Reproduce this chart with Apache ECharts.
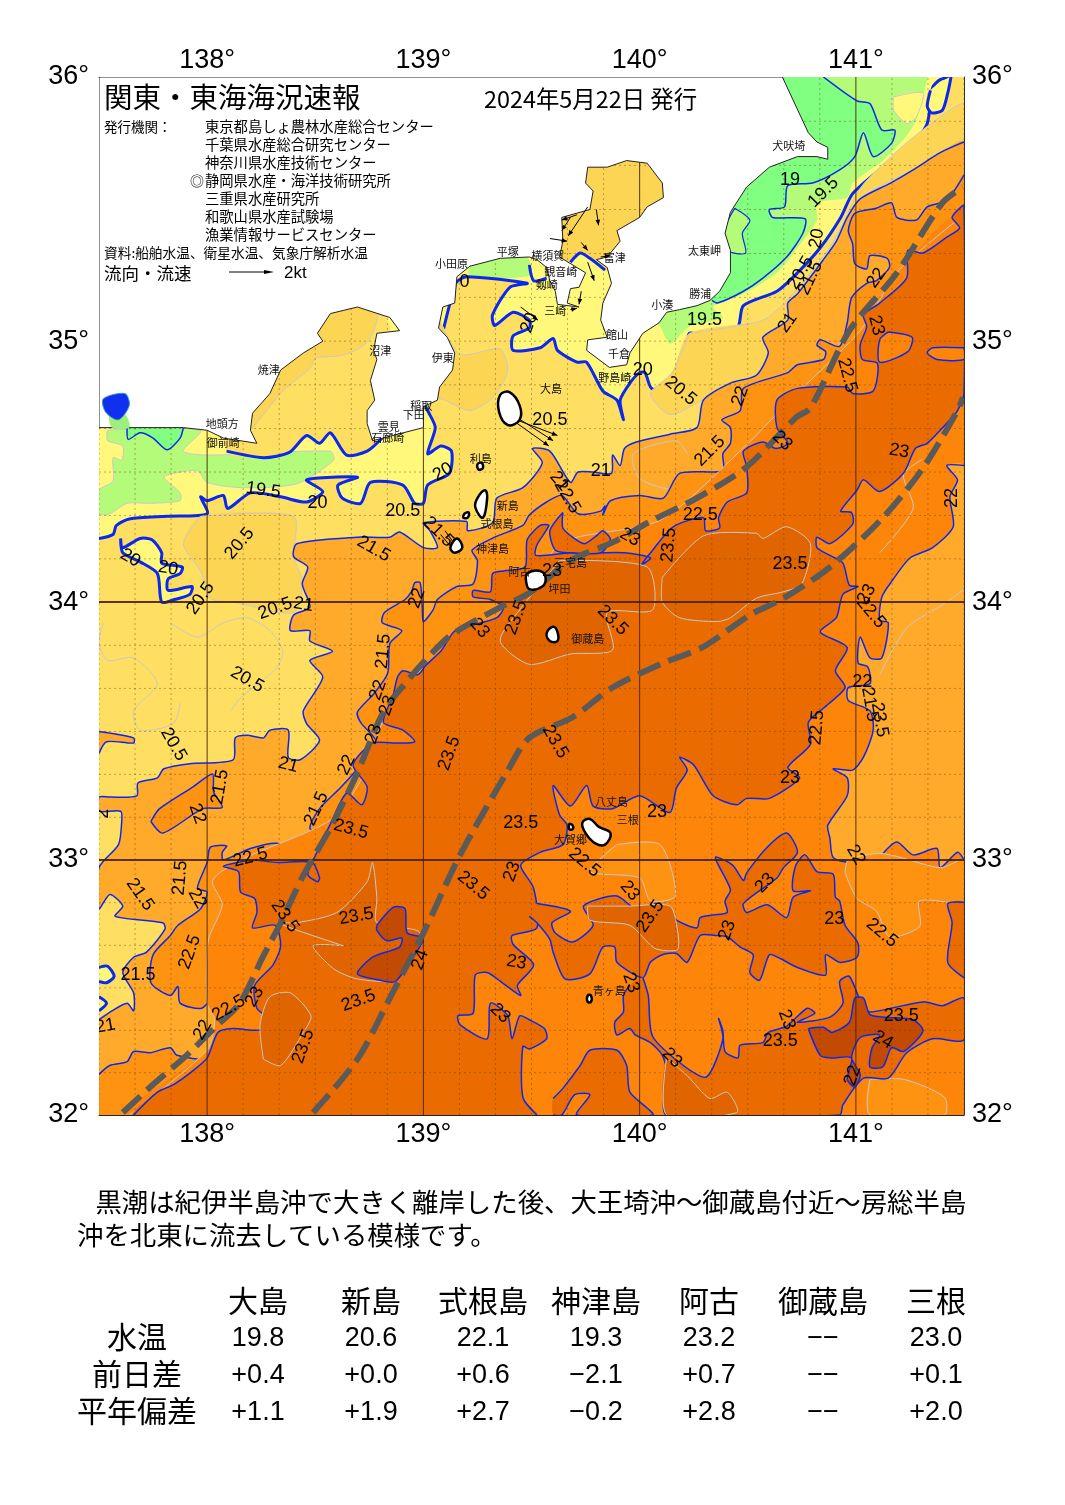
<!DOCTYPE html>
<html lang="ja">
<head>
<meta charset="utf-8">
<title>関東・東海海況速報</title>
<script src="https://cdn.jsdelivr.net/npm/echarts@6/dist/echarts.min.js"></script>
<style>html,body{margin:0;background:#fff}#main{width:1065px;height:1505px}</style>
</head>
<body>
<div id="main"></div>
<script>
// 海岸線 (lon, lat)
var coast = [[137.5,36],[140.66,36],[140.78,35.79],[140.82,35.755],[140.87,35.735],[140.87,35.69],[140.82,35.70],[140.73,35.70],[140.60,35.66],[140.495,35.585],[140.42,35.49],[140.395,35.41],[140.42,35.345],[140.42,35.26],[140.37,35.19],[140.325,35.155],[140.265,35.135],[140.185,35.12],[140.125,35.11],[140.09,35.07],[140.015,35.03],[139.955,34.955],[139.94,34.91],[139.86,34.90],[139.755,34.965],[139.76,35.005],[139.85,35.015],[139.82,35.08],[139.83,35.145],[139.87,35.22],[139.85,35.28],[139.80,35.31],[139.85,35.32],[139.91,35.38],[139.895,35.42],[140,35.47],[140.035,35.51],[140.11,35.545],[140.105,35.60],[140.035,35.675],[139.94,35.685],[139.85,35.66],[139.76,35.66],[139.75,35.60],[139.785,35.57],[139.77,35.50],[139.64,35.47],[139.645,35.38],[139.63,35.32],[139.75,35.26],[139.72,35.205],[139.68,35.20],[139.665,35.145],[139.72,35.13],[139.62,35.14],[139.61,35.19],[139.585,35.23],[139.57,35.28],[139.525,35.31],[139.49,35.32],[139.355,35.315],[139.215,35.285],[139.155,35.245],[139.145,35.145],[139.09,35.13],[139.07,35.05],[139.11,35.015],[139.145,34.955],[139.135,34.89],[139.075,34.825],[139.065,34.775],[139,34.75],[139,34.67],[138.765,34.62],[138.74,34.685],[138.74,34.735],[138.775,34.775],[138.755,34.85],[138.785,34.93],[138.77,34.965],[138.785,35.03],[138.89,35.04],[138.845,35.09],[138.695,35.13],[138.57,35.105],[138.51,35.03],[138.535,35],[138.445,34.955],[138.34,34.89],[138.29,34.80],[138.21,34.725],[138.2,34.66],[138.23,34.61],[138.075,34.63],[138,34.66],[137.89,34.67],[137.63,34.67],[137.5,34.67]];

// 島
var islands = [
  [[139.355,34.795],[139.40,34.805],[139.445,34.755],[139.445,34.70],[139.39,34.68],[139.35,34.73]],
  [[139.25,34.53],[139.27,34.535],[139.275,34.515],[139.255,34.51]],
  [[139.25,34.40],[139.285,34.43],[139.295,34.40],[139.275,34.325],[139.24,34.365]],
  [[139.19,34.34],[139.21,34.345],[139.205,34.325],[139.185,34.325]],
  [[139.125,34.21],[139.155,34.245],[139.18,34.21],[139.145,34.19]],
  [[139.48,34.11],[139.54,34.12],[139.565,34.095],[139.55,34.06],[139.49,34.05],[139.475,34.08]],
  [[139.57,33.88],[139.60,33.905],[139.62,33.885],[139.62,33.85],[139.585,33.85]],
  [[139.735,33.145],[139.77,33.16],[139.81,33.13],[139.865,33.105],[139.84,33.06],[139.795,33.065],[139.75,33.105]],
  [[139.675,33.14],[139.69,33.135],[139.69,33.12],[139.675,33.12]],
  [[139.76,32.47],[139.775,32.47],[139.775,32.445],[139.76,32.445]]
];

// 等温線
var contour19 = [[140.85,36],[141.005,35.91],[141.065,35.90],[141.12,35.80],[141.18,35.80],[141.165,35.75],[141.08,35.70],[141.035,35.79],[140.995,35.70],[140.925,35.65],[140.80,35.60],[140.685,35.59],[140.67,35.51],[140.60,35.50],[140.615,35.47],[140.765,35.465],[140.755,35.41],[140.68,35.32],[140.57,35.24],[140.48,35.19],[140.36,35.145],[140.335,35.155]];
var contour19West = [[137.63,34.67],[137.635,34.625],[137.69,34.65],[137.75,34.63],[137.815,34.585],[137.875,34.63],[137.89,34.67]];
var contour20 = [[137.5,34.245],[137.565,34.26],[137.58,34.295],[137.64,34.32],[137.815,34.33],[138,34.34],[137.97,34.405],[138,34.39],[138.075,34.41],[138.095,34.36],[138.2,34.42],[138.34,34.405],[138.46,34.385],[138.535,34.425],[138.46,34.47],[138.695,34.48],[138.605,34.45],[138.625,34.40],[138.71,34.38],[138.755,34.46],[138.905,34.45],[138.96,34.38],[139,34.38],[139.02,34.45],[139.12,34.495],[139.13,34.58],[139.08,34.60],[139.02,34.57],[139.055,34.67],[139.02,34.735],[139,34.775],[139.05,34.9],[139.15,35.22],[139.20,35.245],[139.48,35.22],[139.40,35.205],[139.32,35.10],[139.33,35.06],[139.415,35.11],[139.49,35.08],[139.49,35.05],[139.415,35.02],[139.415,34.965],[139.54,34.975],[139.60,35.01],[139.62,34.965],[139.71,34.92],[139.755,34.92],[139.83,34.81],[139.895,34.775],[139.925,34.70],[139.91,34.775],[139.955,34.84],[140,34.88],[140.025,34.88],[140.055,34.82],[140.125,34.82],[140.22,34.915],[140.23,35.03],[140.36,35],[140.455,35.055],[140.48,35.135],[140.635,35.19],[140.73,35.26],[140.835,35.355],[140.93,35.47],[140.985,35.56],[141.125,35.66],[141.265,35.75],[141.33,35.825],[141.355,35.96],[141.39,35.99],[141.44,36]];
var contour20Loop = [[141.44,36],[141.425,35.94],[141.40,35.875],[141.35,35.865],[141.33,35.89],[141.345,35.95]];
var contour20Suruga = [[138.09,34.58],[138.26,34.555],[138.38,34.575],[138.46,34.64],[138.52,34.61],[138.57,34.65],[138.645,34.565],[138.74,34.58],[138.815,34.635]];
var contour20Bay = [[139.68,35.30],[139.725,35.335],[139.77,35.315],[139.84,35.27]];
var contour20Miura = [[139.49,35.29],[139.51,35.23],[139.57,35.24]];
var contour21 = [[137.5,32.375],[137.56,32.41],[137.63,32.44],[137.66,32.41],[137.66,32.48],[137.61,32.56],[137.66,32.62],[137.72,32.64],[137.805,32.73],[137.795,32.755],[137.575,32.78],[137.61,32.82],[137.55,32.865],[137.5,32.81],[137.5,32.97],[137.59,33.06],[137.605,33.15],[137.60,33.19],[137.5,33.19],[137.5,33.245],[137.55,33.245],[137.675,33.25],[137.68,33.30],[137.77,33.32],[137.80,33.355],[137.92,33.375],[138.12,33.39],[138.13,33.475],[138.185,33.485],[138.26,33.475],[138.29,33.505],[138.375,33.505],[138.375,33.40],[138.43,33.39],[138.52,33.465],[138.46,33.53],[138.445,33.58],[138.535,33.71],[138.475,33.775],[138.58,33.81],[138.475,33.85],[138.475,33.89],[138.385,33.89],[138.40,33.95],[138.475,33.98],[138.44,34.07],[138.465,34.135],[138.40,34.175],[138.415,34.225],[138.695,34.25],[138.845,34.25],[138.89,34.27],[139,34.21],[139.065,34.21],[139.03,34.275],[139,34.305],[139.20,34.31],[139.205,34.275],[139.32,34.305],[139.34,34.40],[139.46,34.44],[139.55,34.535],[139.505,34.59],[139.585,34.58],[139.68,34.46],[139.715,34.50],[139.785,34.50],[139.87,34.495],[139.875,34.565],[139.91,34.525],[139.93,34.59],[139.985,34.615],[140.14,34.645],[140.265,34.67],[140.295,34.775],[140.42,34.84],[140.54,34.87],[140.595,34.955],[140.57,35.015],[140.685,35.08],[140.685,35.145],[140.73,35.18],[140.85,35.31],[140.91,35.38],[140.96,35.47],[141.02,35.54],[141.16,35.60],[141.265,35.65],[141.39,35.715],[141.5,35.755]];
var contour22 = [[137.5,32.16],[137.55,32.195],[137.63,32.21],[137.66,32.25],[137.735,32.245],[137.83,32.265],[137.86,32.235],[138,32.225],[138.05,32.325],[138.095,32.43],[138.10,32.47],[138.045,32.48],[137.975,32.42],[137.875,32.44],[137.865,32.505],[137.83,32.47],[137.74,32.52],[137.75,32.63],[137.83,32.705],[137.865,32.745],[137.97,32.81],[138,32.875],[137.955,32.89],[138,32.99],[138.015,33.05],[138.09,33.055],[138.07,33.03],[138.075,33],[138.2,33.045],[138.325,33.065],[138.415,33.01],[138.485,33],[138.52,33.08],[138.475,33.125],[138.52,33.20],[138.615,33.28],[138.71,33.37],[138.785,33.455],[138.71,33.535],[138.695,33.575],[138.77,33.645],[138.835,33.725],[138.845,33.84],[138.90,33.89],[138.81,33.92],[138.82,33.96],[138.915,34.01],[138.945,34.04],[138.96,34.075],[138.985,34.075],[138.995,33.98],[139,33.925],[139.045,33.97],[139.065,34.01],[139.155,34.06],[139.23,34.07],[139.25,34.16],[139.225,34.20],[139.33,34.25],[139.46,34.295],[139.49,34.335],[139.57,34.385],[139.64,34.41],[139.715,34.34],[139.82,34.35],[139.84,34.37],[139.83,34.335],[139.865,34.39],[140,34.41],[140.11,34.40],[140.185,34.495],[140.385,34.505],[140.385,34.57],[140.42,34.61],[140.42,34.67],[140.38,34.70],[140.465,34.735],[140.48,34.82],[140.685,34.88],[140.73,34.91],[140.85,34.93],[140.86,34.96],[140.82,34.985],[140.835,35.005],[140.925,34.98],[140.96,35.07],[140.98,35.165],[141.05,35.22],[141.095,35.23],[141.155,35.28],[141.145,35.315],[141.065,35.325],[141.05,35.275],[140.995,35.295],[140.985,35.37],[140.965,35.42],[140.995,35.485],[141.095,35.505],[141.165,35.525],[141.19,35.47],[141.28,35.46],[141.33,35.51],[141.42,35.535],[141.5,35.63]];
var contour225 = [[137.64,32],[138,32.255],[138.035,32.375],[138,32.44],[138.005,32.685],[138.07,32.825],[138.025,32.92],[138.155,33],[138.57,33.155],[138.71,33.31],[138.825,33.56],[138.985,33.735],[139.26,33.89],[139.49,34.01],[139.63,34.225],[140.095,34.315],[140.49,34.60],[140.695,34.775],[141.02,35.04],[141.2,35.27],[141.5,35.48]];
var contour23 = [[137.66,32],[137.77,32.09],[137.845,32.12],[137.935,32.175],[138,32.225],[138.05,32.325],[138.12,32.34],[138.245,32.335],[138.28,32.38],[138.23,32.42],[138.22,32.51],[138.305,32.59],[138.34,32.665],[138.315,32.745],[138.21,32.735],[138.23,32.795],[138.22,32.85],[138.155,32.875],[138.145,32.955],[138.075,32.975],[138.14,32.99],[138.21,33],[138.325,32.99],[138.485,32.99],[138.52,32.93],[138.51,32.915],[138.465,32.945],[138.52,33.05],[138.57,33.14],[138.645,33.26],[138.715,33.215],[138.74,33.285],[138.675,33.37],[138.765,33.455],[138.86,33.455],[138.96,33.46],[138.905,33.505],[138.815,33.535],[138.86,33.64],[138.88,33.71],[138.905,33.735],[138.975,33.72],[139.01,33.755],[139.08,33.81],[139.14,33.885],[139.20,33.905],[139.34,33.94],[139.37,33.98],[139.31,34.01],[139.23,34.02],[139.23,34.045],[139.31,34.04],[139.32,34.11],[139.37,34.12],[139.47,34.135],[139.48,34.24],[139.54,34.295],[139.58,34.295],[139.525,34.22],[139.52,34.18],[139.68,34.19],[139.805,34.19],[139.93,34.19],[140.05,34.17],[140.01,34.145],[140.06,34.20],[140.155,34.29],[140.295,34.325],[140.305,34.275],[140.37,34.285],[140.365,34.325],[140.405,34.385],[140.495,34.42],[140.495,34.52],[140.48,34.58],[140.57,34.615],[140.63,34.59],[140.685,34.61],[140.635,34.67],[140.635,34.775],[140.73,34.82],[140.96,34.825],[140.985,34.80],[141.08,34.81],[141.10,34.915],[141.03,34.93],[141.02,34.985],[141.05,35.055],[141.035,35.10],[141.11,35.145],[141.235,35.24],[141.24,35.345],[141.31,35.335],[141.42,35.395],[141.48,35.43],[141.445,35.47],[141.48,35.505],[141.5,35.515],[141.5,34.80],[141.47,34.735],[141.435,34.70],[141.33,34.61],[141.275,34.59],[141.22,34.495],[141.11,34.425],[141.035,34.47],[141.005,34.43],[140.93,34.35],[140.98,34.345],[140.985,34.30],[140.88,34.225],[140.82,34.25],[140.82,34.21],[140.88,34.18],[140.94,34.15],[140.97,34.065],[141.01,34.06],[140.94,34.03],[140.91,33.94],[140.835,33.885],[140.96,33.825],[140.905,33.735],[140.95,33.67],[140.85,33.59],[140.78,33.535],[140.79,33.45],[140.685,33.36],[140.74,33.32],[140.60,33.24],[140.495,33.24],[140.45,33.215],[140.34,33.25],[140.25,33.37],[140.185,33.40],[140.22,33.35],[140.17,33.28],[140.14,33.185],[140,33.25],[139.875,33.20],[139.785,33.21],[139.755,33.29],[139.68,33.21],[139.60,33.29],[139.63,33.175],[139.665,33.135],[139.645,33.06],[139.54,33.03],[139.45,32.98],[139.51,32.89],[139.525,32.735],[139.41,32.705],[139.415,32.67],[139.51,32.59],[139.435,32.51],[139.45,32.47],[139.365,32.52],[139.295,32.56],[139.24,32.55],[139.23,32.40],[139.16,32.39],[139.17,32.355],[139.295,32.30],[139.31,32.44],[139.39,32.39],[139.41,32.30],[139.445,32.39],[139.49,32.375],[139.56,32.34],[139.57,32.30],[139.49,32.26],[139.46,32.27],[139.46,32.07],[139.525,32]];
var blob23Center = [[139.525,32.83],[139.68,32.80],[139.595,32.755],[139.61,32.715],[139.69,32.68],[139.785,32.745],[139.74,32.82],[139.895,32.86],[140,32.795],[140.08,32.83],[140.17,32.765],[140.265,32.735],[140.28,32.775],[140.34,32.785],[140.405,32.795],[140.395,32.84],[140.42,32.885],[140.35,33.01],[140.43,32.98],[140.48,32.92],[140.495,32.95],[140.59,33.05],[140.68,33.105],[140.73,33.03],[140.665,32.97],[140.635,32.93],[140.48,32.83],[140.495,32.795],[140.59,32.825],[140.68,32.775],[140.71,32.855],[140.79,32.88],[140.71,32.88],[140.72,32.975],[140.765,33.02],[140.82,32.955],[140.895,32.945],[140.905,32.855],[140.925,32.84],[140.95,32.745],[141.01,32.675],[141.005,32.62],[140.925,32.60],[140.86,32.63],[140.86,32.55],[140.73,32.58],[140.65,32.615],[140.60,32.63],[140.555,32.53],[140.51,32.56],[140.525,32.63],[140.465,32.66],[140.405,32.70],[140.35,32.705],[140.28,32.705],[140.22,32.60],[140.17,32.635],[140.105,32.63],[140.05,32.60],[140.015,32.54],[139.895,32.60],[139.885,32.66],[139.83,32.66],[139.77,32.555],[139.655,32.535],[139.60,32.64],[139.585,32.69],[139.525,32.755],[139.49,32.78]];
var blob23South = [[140.015,32.54],[140.04,32.47],[140.06,32.31],[140.21,32.19],[140.31,32.15],[140.385,32.30],[140.365,32.38],[140.385,32.33],[140.395,32.25],[140.455,32.225],[140.465,32.275],[140.57,32.285],[140.595,32.325],[140.68,32.35],[140.775,32.42],[140.81,32.40],[140.73,32.365],[140.88,32.385],[140.94,32.44],[140.925,32.525],[140.97,32.545],[141.03,32.43],[141.065,32.405],[141.31,32.445],[141.40,32.43],[141.5,32.46],[141.5,32.295],[141.355,32.30],[141.235,32.245],[141.15,32.145],[141.035,32.145],[140.94,32.04],[140.925,32],[140.125,32],[140.115,32.10],[140.13,32.155],[140.105,32.235],[140.05,32.285],[139.98,32.315],[139.955,32.34],[139.895,32.315],[139.885,32.365],[139.925,32.405],[139.925,32.47],[139.955,32.51]];
var blob23Bottom = [[139.60,32.065],[139.645,32.105],[139.725,32.195],[139.77,32.255],[139.895,32.255],[139.94,32.195],[139.955,32.09],[140.06,32],[139.71,32],[139.77,32.08],[139.70,32.08],[139.64,32],[139.60,32]];
var blob23East = [[141.5,32.835],[141.425,32.83],[141.445,32.755],[141.425,32.60],[141.5,32.54]];
var blob23Miyake = [[139.645,34.345],[139.645,34.285],[139.69,34.25],[139.745,34.225],[139.80,34.255],[139.83,34.275],[139.865,34.24],[139.82,34.19],[139.68,34.19],[139.61,34.20],[139.585,34.275]];
var blob24West = [[138.785,32.745],[138.86,32.815],[138.915,32.81],[138.925,32.715],[139,32.695],[138.96,32.63],[138.87,32.525],[138.80,32.53],[138.695,32.555],[138.765,32.62],[138.89,32.66],[138.90,32.695],[138.83,32.685],[138.785,32.725]];
var blob24East = [[140.78,32.34],[140.85,32.345],[140.89,32.325],[140.97,32.365],[140.995,32.46],[141.035,32.46],[141.065,32.395],[141.135,32.385],[141.265,32.375],[141.31,32.33],[141.22,32.25],[141.165,32.265],[141.125,32.19],[141.065,32.19],[141.075,32.265],[141.11,32.315],[141.02,32.305],[140.98,32.225],[141.02,32.16],[140.995,32.11],[140.96,32.14],[140.98,32.225],[140.88,32.225],[140.835,32.235]];

// 水温の面
var band195North = [[140.66,36],[141.33,36],[141.33,35.99],[141.28,35.84],[141.235,35.78],[141.125,35.685],[140.985,35.60],[140.96,35.545],[140.82,35.525],[140.82,35.46],[140.73,35.355],[140.635,35.26],[140.48,35.18],[140.34,35.13],[140.385,35.09],[140.23,35.055],[140.14,34.99],[140.10,35.05],[140.05,35.12],[140.28,35.345]];
var band195Sagami = [[139.215,35.285],[139.355,35.315],[139.48,35.32],[139.49,35.25],[139.215,35.245]];
var band195West = [[137.54,34.66],[137.97,34.66],[137.89,34.58],[138.015,34.565],[138.57,34.58],[138.585,34.545],[138.415,34.455],[138.165,34.44],[138,34.46],[137.955,34.505],[137.845,34.495],[137.80,34.48],[137.875,34.42],[137.875,34.39],[137.735,34.38],[137.63,34.38],[137.55,34.34],[137.5,34.34],[137.5,34.43],[137.565,34.465],[137.565,34.555],[137.605,34.545],[137.61,34.60],[137.54,34.62]];
var yellowTop = [[141.175,35.925],[141.31,35.94],[141.28,35.85],[141.235,35.825],[141.175,35.875]];
var lightInGreen = [[140.44,35.505],[140.51,35.46],[140.475,35.41],[140.49,35.335],[140.405,35.345],[140.395,35.43]];
var pocketWest20 = [[137.6,34.245],[137.61,34.21],[137.69,34.245],[137.745,34.24],[137.79,34.19],[137.79,34.15],[137.885,34.135],[137.875,34.11],[137.82,34.09],[137.82,34.045],[137.93,34.06],[137.92,34.03],[137.85,34.01],[137.79,34],[137.77,34.11],[137.69,34.155],[137.61,34.19]];
var pocketEdgeA = [[137.5,32.58],[137.54,32.585],[137.57,32.545],[137.535,32.52],[137.5,32.525]];
var pocketEdgeB = [[137.5,32.465],[137.535,32.44],[137.5,32.41]];
var pocketEast21 = [[141.5,33.81],[141.435,33.81],[141.40,33.735],[141.30,33.71],[141.17,33.685],[141.12,33.62],[141.09,33.53],[141.09,33.375],[141.265,33.32],[141.34,33.32],[141.285,33.26],[141.34,33.23],[141.435,33.29],[141.5,33.32]];
var pocketEast22 = [[141.5,34.525],[141.42,34.525],[141.47,34.47],[141.435,34.405],[141.45,34.29],[141.355,34.21],[141.25,34.17],[141.17,34.085],[141.12,34.02],[141.11,33.93],[141.15,33.92],[141.12,33.785],[141.065,33.785],[141.02,33.865],[141.01,33.765],[141.055,33.75],[141.065,33.685],[140.965,33.67],[140.965,33.62],[141.065,33.58],[141.08,33.505],[141.035,33.40],[140.985,33.35],[140.895,33.355],[140.96,33.32],[140.96,33.25],[140.87,33.135],[140.88,33.085],[140.895,33.01],[140.98,32.99],[141.035,33],[141.095,33.01],[141.095,32.97],[141.125,33.025],[141.19,33.07],[141.265,33.02],[141.375,33.045],[141.39,32.97],[141.47,33.03],[141.5,33]];
var blobEdge21 = [[137.5,33.5],[137.66,33.475],[137.66,33.455],[137.535,33.46],[137.5,33.415]];
var blob22West = [[137.74,33.15],[137.795,33.105],[137.98,33.20],[138.07,33.205],[138.03,33.265],[138.025,33.335],[137.935,33.285],[137.78,33.20]];
var pocket23a = [[141.15,35.035],[141.26,35.015],[141.24,34.96],[141.11,34.92],[141.11,35.005]];
var pocket23b = [[141.5,34.975],[141.355,34.975],[141.33,34.955],[141.375,34.93],[141.5,34.93]];
var tint205Suruga = [[138.2,34.66],[138.35,34.81],[138.48,34.90],[138.50,34.935],[138.62,34.945],[138.71,34.975],[138.76,35.02],[138.79,35.12],[138.70,35.20],[138.43,35.03],[138.2,34.80]];
var tint205Sagami = [[139.07,35.08],[139.17,34.95],[139.355,34.97],[139.39,34.885],[139.32,34.785],[139.215,34.735],[139.10,34.775],[139.03,34.80]];
var tint205East = [[140.23,35.03],[140.57,35.08],[140.685,35.16],[140.81,35.28],[140.915,35.40],[141.02,35.58],[141.19,35.72],[141.34,35.82],[141.5,35.90],[141.5,35.755],[141.265,35.65],[141.02,35.54],[140.85,35.31],[140.685,35.08],[140.54,34.87],[140.30,34.78],[140.14,34.72],[140.05,34.80],[140.15,34.88]];
var tint205West = [[137.97,34.33],[138.40,34.33],[138.40,34.175],[138.44,34.08],[138.40,33.96],[138.12,34],[138.015,34.015],[137.97,34.12],[137.89,34.225]];
var tint205Bay = [[139.6,35.72],[140.15,35.72],[140.15,35.4],[139.88,35.27],[139.84,35.27],[139.77,35.315],[139.725,35.335],[139.68,35.30],[139.6,35.35]];
var tint225Hachijo = [[139.895,33.06],[140.095,33.06],[140.165,32.86],[140.05,32.84],[140,32.93],[139.77,32.955]];
var tint225East = [[140.95,32.95],[141.005,32.85],[141.095,32.80],[141.155,32.70],[141.295,32.74],[141.295,32.84],[141.5,32.84],[141.5,33],[141.39,32.97],[141.125,33.025],[140.965,33]];
var tint225South = [[141.065,32.14],[141.225,32.14],[141.41,32.07],[141.41,32],[141.065,32]];
var warm235a = [[140.105,34.095],[140.295,34.255],[140.54,34.265],[140.57,34.245],[140.68,34.29],[140.79,34.225],[140.75,34.07],[140.665,34.04],[140.54,34.015],[140.42,33.94],[140.36,33.925],[140.185,33.94],[140.105,34]];
var warm235b = [[139.63,34.16],[140.035,34.135],[140.06,33.97],[139.85,33.96],[139.875,33.815],[139.68,33.80],[139.49,33.76],[139.355,33.85],[139.445,33.97]];
var warm235c = [[138.63,32.665],[138.49,32.665],[138.585,32.575],[138.695,32.535],[138.86,32.535],[138.985,32.715],[138.785,32.755],[138.785,32.85],[138.765,32.99],[138.74,32.915],[138.60,32.795],[138.415,32.755],[138.325,32.755]];
var warm235d = [[138.26,32.22],[138.34,32.195],[138.445,32.325],[138.48,32.39],[138.385,32.48],[138.29,32.465],[138.245,32.355]];
var warm235e = [[140.125,32.225],[140.22,32.155],[140.325,32.065],[140.405,32.09],[140.45,32.01],[140.125,32]];
var warm235f = [[139.76,32.82],[139.955,32.82],[140.14,32.82],[140.175,32.725],[140.175,32.65],[140.07,32.655],[139.955,32.745],[139.77,32.765]];

// 灰色の等温線
var grey205a = [[137.83,33.92],[137.955,33.865],[138.075,33.92],[138.185,33.94],[138.29,33.89],[138.35,33.81],[138.32,33.745],[138.155,33.63],[138.11,33.58]];
var grey205b = [[137.52,33.92],[137.5,33.84],[137.54,33.775],[137.66,33.785],[137.77,33.685],[137.66,33.58],[137.69,33.505],[137.845,33.53],[137.875,33.61]];
var grey215a = [[140.45,34.53],[140.42,34.455],[140.17,34.43],[140,34.475],[139.97,34.57],[140.17,34.62],[140.22,34.57]];
var grey225a = [[141.11,34.19],[141.265,34.36],[141.22,34.49],[141.31,34.55]];
var grey225b = [[141.11,33.72],[141.235,33.90],[141.42,34],[141.5,34.05]];

// 黒潮
var kuroshioNorth = [[137.61,32.01],[137.75,32.12],[137.905,32.235],[138.03,32.34],[138.15,32.44],[138.26,32.625],[138.34,32.755],[138.445,32.94],[138.57,33.125],[138.695,33.34],[138.815,33.575],[138.94,33.71],[139.065,33.825],[139.14,33.88],[139.355,33.98],[139.49,34.035],[139.68,34.16],[139.875,34.23],[140.06,34.315],[140.265,34.40],[140.495,34.52],[140.725,34.71],[140.79,34.745],[140.97,35.04],[141.19,35.26],[141.40,35.525],[141.495,35.585]];
var kuroshioSouth = [[138.49,32.01],[138.695,32.22],[138.845,32.46],[139,32.715],[139.17,33.02],[139.385,33.34],[139.49,33.475],[139.69,33.555],[139.875,33.67],[140.11,33.765],[140.29,33.825],[140.51,33.95],[140.665,34.015],[140.88,34.135],[141.125,34.325],[141.31,34.515],[141.47,34.735],[141.495,34.785]];

// 伊勢湾の小さな水域
var iseWater = [[137.52,34.78],[137.62,34.80],[137.64,34.755],[137.59,34.70],[137.53,34.73]];
var iseShore = [[137.55,34.72],[137.62,34.72],[137.64,34.67],[137.56,34.67]];

// 流向
var flowArrows = [[139.43,34.70,139.62,34.64],[139.43,34.71,139.60,34.62],[139.41,34.70,139.58,34.60],[139.80,35.50,139.81,35.44],[139.68,35.47,139.64,35.42],[139.76,35.51,139.67,35.40],[139.71,35.48,139.64,35.46],[139.585,35.39,139.665,35.38],[139.73,35.375,139.76,35.345],[139.76,35.30,139.79,35.23],[139.73,35.19,139.72,35.14],[139.68,35.12,139.71,35.125],[139.82,35.32,139.865,35.325],[139.45,35.13,139.53,35.08],[139.10,34.275,139.16,34.205],[139.08,34.26,139.15,34.19]];

// 等温線ラベル lon, lat, text, 角度
var contourLabels = [[140.695,35.61,'19',0],[140.85,35.565,'19.5',45],[140.30,35.08,'19.5',0],[138.26,34.43,'19.5',-8],[140.82,35.39,'20',80],[140.745,35.26,'20.5',60],[140.79,35.24,'21.5',65],[141.095,35.24,'22',55],[141.095,35.06,'23',-75],[140.96,34.87,'22.5',-75],[140.685,35.07,'21',55],[140.465,34.79,'22',70],[140.19,34.81,'20.5',-40],[140.015,34.89,'20',0],[139.09,34.50,'20',30],[139.585,34.70,'20.5',0],[139.82,34.505,'21',0],[140.325,34.58,'21.5',45],[140.66,34.62,'23',-45],[140.28,34.335,'22.5',0],[140.135,34.22,'23.5',85],[139.955,34.25,'23',-30],[139.595,34.12,'23',0],[140.695,34.145,'23.5',0],[141.2,34.58,'23',-10],[141.445,34.40,'22',90],[141.05,34.03,'23',60],[141.07,33.96,'22.5',-50],[139.875,33.93,'23.5',-45],[139.43,33.94,'23.5',70],[139.26,33.90,'23',-50],[138.15,34.225,'20.5',50],[137.97,34.015,'20.5',55],[138.315,33.975,'20.5',20],[138.445,33.99,'21',-10],[138.97,34.015,'22',70],[138.815,33.81,'21.5',85],[138.79,33.66,'22',70],[138.835,33.60,'23',70],[138.185,33.70,'20.5',-30],[137.845,33.45,'20.5',-60],[138.375,33.37,'21',-15],[138.06,33.285,'21.5',80],[137.955,33.18,'22',-70],[137.52,33.18,'2',90],[138.77,33.49,'23',70],[138.645,33.37,'22',65],[139.12,33.415,'23.5',70],[139.61,33.46,'23.5',-60],[138.505,33.20,'21.5',65],[138.665,33.12,'23.5',-15],[139.45,33.145,'23.5',0],[140.08,33.185,'23',0],[140.695,33.32,'23',0],[139.745,32.99,'22.5',-40],[141,33.02,'22',-60],[140.58,32.91,'23',45],[138.2,33.01,'22.5',15],[139.41,32.955,'23',70],[139.23,32.90,'23.5',-40],[137.875,32.93,'21.5',85],[137.955,32.85,'22',-60],[137.69,32.865,'21.5',-55],[137.92,32.64,'22.5',70],[137.68,32.55,'21.5',0],[138.36,32.78,'23.5',-55],[138.69,32.78,'23.5',10],[138.985,32.61,'24',70],[139.955,32.88,'23',-50],[140.05,32.78,'23.5',55],[140.405,32.725,'23',70],[140.90,32.77,'23',0],[141.12,32.715,'22.5',-40],[139.43,32.60,'23',-10],[138.70,32.45,'23.5',20],[139.355,32.40,'23',-45],[139.96,32.52,'23',-70],[140.15,32.225,'23',-45],[140.68,32.375,'23',-70],[140.65,32.29,'23.5',0],[141.21,32.39,'23.5',0],[141.125,32.295,'24',-30],[138.445,32.27,'23.5',70],[138.22,32.465,'23',60],[138.10,32.42,'22.5',30],[137.98,32.335,'22',60],[137.53,32.35,'21',10],[140.985,32.155,'22',70],[139.63,34.465,'21',-50],[139.665,34.405,'22.5',-60],[138.905,34.35,'20.5',0],[139.07,34.27,'21.5',-45],[138.77,34.205,'21.5',-30],[138.51,34.38,'20',0],[137.645,34.17,'20',-30],[137.82,34.13,'20',-10],[141.03,33.69,'22',0],[141.065,33.605,'21.5',-80],[141.11,33.545,'23.5',-80],[140.82,33.515,'22.5',85],[139.49,35.07,'20',70],[139.19,35.225,'0',0]];

// 地名 lon, lat, text
var placeNames = [[139.59,34.82,'大島'],[139.265,34.55,'利島'],[139.39,34.37,'新島'],[139.34,34.30,'式根島'],[139.32,34.205,'神津島'],[139.68,34.15,'三宅島'],[139.445,34.115,'阿古'],[139.63,34.05,'坪田'],[139.76,33.86,'御蔵島'],[139.87,33.225,'八丈島'],[139.945,33.155,'三根'],[139.68,33.08,'大賀郷'],[139.86,32.49,'青ヶ島'],[139.13,35.295,'小田原'],[139.39,35.34,'平塚'],[139.575,35.325,'横須賀'],[139.635,35.265,'観音崎'],[139.61,35.115,'三崎'],[139.57,35.215,'剱崎'],[139.885,35.315,'富津'],[139.895,35.025,'館山'],[139.905,34.95,'千倉'],[139.885,34.86,'野島崎'],[140.28,35.18,'勝浦'],[140.105,35.14,'小湊'],[140.30,35.345,'太東岬'],[140.69,35.74,'犬吠埼'],[138.80,34.965,'沼津'],[139.09,34.935,'伊東'],[138.285,34.89,'焼津'],[138.07,34.685,'地頭方'],[138.075,34.61,'御前崎'],[138.99,34.755,'稲取'],[138.955,34.72,'下田'],[138.84,34.675,'雲見'],[138.835,34.63,'石廊崎']];

var issuerList = ['東京都島しょ農林水産総合センター','千葉県水産総合研究センター','神奈川県水産技術センター','静岡県水産・海洋技術研究所','三重県水産研究所','和歌山県水産試験場','漁業情報サービスセンター'];
var tableStations = ['大島','新島','式根島','神津島','阿古','御蔵島','三根'];
var rowNames = ['水温','前日差','平年偏差'];
var waterTemp = ['19.8','20.6','22.1','19.3','23.2','−−','23.0'];
var dayDiff = ['+0.4','+0.0','+0.6','−2.1','+0.7','−−','+0.1'];
var normalDiff = ['+1.1','+1.9','+2.7','−0.2','+2.8','−−','+2.0'];
var lonTicks = [138,139,140,141];
var latTicks = [32,33,34,35,36];

function merc(lat){ return Math.log(Math.tan(Math.PI/4 + lat*Math.PI/360)); }
function invMerc(v){ return (2*Math.atan(Math.exp(v)) - Math.PI/2)*180/Math.PI; }

var C = {green:'#80ff80', lgreen:'#b3fb78', yellow:'#fff87a', y20:'#ffdf62', y205:'#fdd555', o21:'#ffaa2a', o22:'#fe9312', o225:'#fd860a', o23:'#ea6c00', o235:'#e06400', o24:'#c34a03'};
var BLUE = '#0a28f0', GREY = '#c9c9c9';
var N = [[141.5,36],[141.5,32],[137.5,32]];  // 東端・南端で閉じる
var SE = [[141.5,32],[137.5,32]];

// ring, 閉じる点, 塗り, 線色, 線幅, 線も閉じるか
var layers = [
  [band195North,[],C.lgreen,null,0],
  [yellowTop,[],C.yellow,GREY,1,1],
  [contour19,[[140.3,35.3],[140.66,36]],C.green,BLUE,1.5],
  [lightInGreen,[],C.lgreen,BLUE,1.2,1],
  [band195Sagami,[],C.lgreen,null,0],
  [band195West,[],C.lgreen,GREY,1,1],
  [contour19West,[[137.89,34.8],[137.63,34.8]],C.green,BLUE,1.5],
  [contour20Suruga,[[138.815,35.1],[138.09,35.1]],C.y20,BLUE,3],
  [contour20,N,C.y20,BLUE,3],
  [contour20Loop,[],C.yellow,BLUE,3],
  [pocketWest20,[],C.yellow,BLUE,3,1],
  [pocketEdgeA,[],C.yellow,BLUE,3],
  [pocketEdgeB,[],C.yellow,BLUE,3],
  [tint205Suruga,[],C.y205,GREY,1,1],
  [tint205Sagami,[],C.y205,GREY,1,1],
  [tint205East,[],C.y205,GREY,1,1],
  [tint205West,[],C.y205,GREY,1,1],
  [tint205Bay,[],C.y205,null,0],
  [contour20Bay,[],null,BLUE,3],
  [contour20Miura,[],null,BLUE,3],
  [grey205a,[],null,GREY,1],
  [grey205b,[],null,GREY,1],
  [contour21,SE,C.o21,BLUE,1.5],
  [pocketEast21,[],C.y20,BLUE,1.5],
  [blobEdge21,[],C.o21,BLUE,1.5],
  [grey215a,[],null,GREY,1],
  [contour22,SE,C.o22,BLUE,1.5],
  [blob22West,[],C.o22,BLUE,1.5,1],
  [contour225,[[141.5,32]],C.o225,GREY,1],
  [pocketEast22,[],C.o21,BLUE,1.5],
  [grey225a,[],null,GREY,1],
  [grey225b,[],null,GREY,1],
  [tint225Hachijo,[],C.o22,GREY,1,1],
  [tint225East,[],C.o22,GREY,1,1],
  [tint225South,[],C.o22,GREY,1,1],
  [contour23,[],C.o23,BLUE,1.5],
  [pocket23a,[],C.o225,BLUE,1.5,1],
  [pocket23b,[],C.o225,BLUE,1.5,1],
  [blob23Miyake,[],C.o23,BLUE,1.5,1],
  [blob23Center,[],C.o23,BLUE,1.5],
  [blob23South,[],C.o23,BLUE,1.5],
  [blob23Bottom,[],C.o23,BLUE,1.5],
  [blob23East,[],C.o23,BLUE,1.5],
  [warm235a,[],C.o235,GREY,1,1],
  [warm235b,[],C.o235,GREY,1,1],
  [warm235c,[],C.o235,GREY,1,1],
  [warm235d,[],C.o235,GREY,1,1],
  [warm235e,[],C.o235,GREY,1,1],
  [warm235f,[],C.o235,GREY,1,1],
  [blob24West,[],C.o24,BLUE,1.5,1],
  [blob24East,[],C.o24,BLUE,1.5,1]
];

function project(api, pts){
  return pts.map(function(p){ return api.coord([p[0], merc(p[1])]); });
}

var myChart = echarts.init(document.getElementById('main'));

function renderLayer(params, api){
  var l = layers[params.dataIndex];
  var children = [];
  if (l[2]) {
    children.push({type:'polygon', shape:{points:project(api, l[0].concat(l[1])), smooth:0.25}, style:{fill:l[2]}});
  }
  if (l[3]) {
    var line = l[5] ? l[0].concat([l[0][0]]) : l[0];
    children.push({type:'polyline', shape:{points:project(api, line), smooth:0.25}, style:{fill:null, stroke:l[3], lineWidth:l[4], lineJoin:'round'}});
  }
  return {type:'group', children:children};
}

// 10分ごとの経緯線
var graticule = [];
for (var i = 0; i <= 24; i++) {
  var lo = 137.5 + i/6;
  var major = Math.abs(lo - Math.round(lo)) < 0.001;
  graticule.push({pts:[[lo,32],[lo,36]], major:major, w:1});
}
for (var j = 1; j < 24; j++) {
  var la = 32 + j/6;
  var maj = Math.abs(la-33) < 0.001 || Math.abs(la-34) < 0.001;
  graticule.push({pts:[[137.5,la],[141.5,la]], major:maj, w:maj ? 2 : 1});
}

function renderGrid(params, api){
  var g = graticule[params.dataIndex];
  return {type:'polyline', shape:{points:project(api, g.pts)}, style:{fill:null, stroke:g.major ? 'rgba(70,35,0,0.9)' : 'rgba(90,50,0,0.38)', lineWidth:g.w, lineDash:g.major ? null : [2,3]}};
}

function renderKuroshio(params, api){
  var pts = params.dataIndex === 0 ? kuroshioNorth : kuroshioSouth;
  return {type:'polyline', shape:{points:project(api, pts), smooth:0.3}, style:{fill:null, stroke:'#5a5a5a', lineWidth:6, lineDash:[24,9]}};
}

function renderFlow(params, api){
  var f = flowArrows[params.dataIndex];
  var a = api.coord([f[0], merc(f[1])]), b = api.coord([f[2], merc(f[3])]);
  var ang = Math.atan2(b[1]-a[1], b[0]-a[0]);
  var h1 = [b[0]-6*Math.cos(ang-0.4), b[1]-6*Math.sin(ang-0.4)], h2 = [b[0]-6*Math.cos(ang+0.4), b[1]-6*Math.sin(ang+0.4)];
  return {type:'group', children:[
    {type:'line', shape:{x1:a[0],y1:a[1],x2:b[0],y2:b[1]}, style:{stroke:'#000', lineWidth:1}},
    {type:'polygon', shape:{points:[b,h1,h2]}, style:{fill:'#000'}}
  ]};
}

function renderLand(params, api){
  return {type:'group', children:[
    {type:'polygon', shape:{points:project(api, coast)}, style:{fill:'#fff', stroke:'#222', lineWidth:1}},
    {type:'polygon', shape:{points:project(api, iseShore), smooth:0.3}, style:{fill:'#9cf07a'}},
    {type:'polygon', shape:{points:project(api, iseWater), smooth:0.3}, style:{fill:'#1030f0', stroke:'#39c', lineWidth:1}}
  ]};
}

function renderIsland(params, api){
  return {type:'polygon', shape:{points:project(api, islands[params.dataIndex]), smooth:0.4}, style:{fill:'#fff', stroke:'#000', lineWidth:2.5, lineJoin:'round'}};
}

function renderLabel(params, api){
  var l = contourLabels[params.dataIndex];
  var p = api.coord([l[0], merc(l[1])]);
  return {type:'text', x:p[0], y:p[1], rotation:l[3]*Math.PI/180,
    style:{text:l[2], fill:'#000', font:'18px "Liberation Sans"', align:'center', verticalAlign:'middle'}};
}

function renderPlace(params, api){
  var l = placeNames[params.dataIndex];
  var p = api.coord([l[0], merc(l[1])]);
  return {type:'text', x:p[0], y:p[1], style:{text:l[2], fill:'#111', font:'11px "Noto Sans CJK JP"', align:'center', verticalAlign:'middle'}};
}

function ids(arr){ return arr.map(function(_, i){ return [i]; }); }
function customSeries(fn, arr, z){
  return {type:'custom', renderItem:fn, data:ids(arr), xAxisIndex:0, yAxisIndex:0, clip:true, silent:true, z:z, animation:false, encode:{tooltip:-1}};
}

// 文字
var texts = [];
function addText(t, x, y, font, align){
  texts.push({type:'text', x:x, y:y, silent:true, z:100, style:{text:t, fill:'#000', font:font, align:align||'left', verticalAlign:'middle'}});
}
var JP = '"Noto Sans CJK JP"', LS = '"Liberation Sans"';
addText('関東・東海海況速報', 104, 97, '28.5px '+JP);
addText('2024年5月22日 発行', 484, 99, '23.4px '+JP);
addText('発行機関：', 104, 127, '13.5px '+JP);
issuerList.forEach(function(t, i){ addText(t, 205, 127+i*18, '14.3px '+JP); });
addText('◎', 190, 181, '14px '+JP);
addText('資料:船舶水温、衛星水温、気象庁解析水温', 104, 253, '13.7px '+JP);
addText('流向・流速', 104, 273, '17.5px '+JP);
addText('2kt', 284, 273, '17px '+LS);
addText('　黒潮は紀伊半島沖で大きく離岸した後、大王埼沖～御蔵島付近～房総半島', 69, 1202, '26.4px '+JP);
addText('沖を北東に流去している模様です。', 77, 1235, '26.4px '+JP);

var colX = [258,371,483,596,709,823,936];
var rowY = [1337,1374,1411];
tableStations.forEach(function(t, i){ addText(t, colX[i], 1301, '30px '+JP, 'center'); });
rowNames.forEach(function(t, i){ addText(t, 137, rowY[i], '30px '+JP, 'center'); });
[waterTemp, dayDiff, normalDiff].forEach(function(row, r){
  row.forEach(function(v, i){ addText(v, colX[i], rowY[r]+2, '27px '+LS, 'center'); });
});
texts.push({type:'line', silent:true, z:100, shape:{x1:229,y1:272,x2:268,y2:272}, style:{stroke:'#000', lineWidth:1}});
texts.push({type:'polygon', silent:true, z:100, shape:{points:[[274,272],[264,270],[264,274]]}, style:{fill:'#000'}});

var latTickValues = latTicks.map(merc);
function latLabel(v){ return Math.round(invMerc(v)) + '°'; }
var tickFont = {color:'#000', fontFamily:'Liberation Sans', fontSize:27};

var option = {
  animation:false,
  backgroundColor:'#fff',
  grid:{left:99, top:77, width:865, height:1038},
  xAxis:[
    {type:'value', position:'bottom', min:137.5, max:141.5, axisTick:{show:false}, splitLine:{show:false},
     axisLine:{onZero:false, lineStyle:{color:'#222'}},
     axisLabel:Object.assign({customValues:lonTicks, margin:6, formatter:function(v){ return v+'°'; }}, tickFont)},
    {type:'value', position:'top', min:137.5, max:141.5, axisTick:{show:false}, splitLine:{show:false},
     axisLine:{onZero:false, lineStyle:{color:'#333'}},
     axisLabel:Object.assign({customValues:lonTicks, margin:3, formatter:function(v){ return v+'°'; }}, tickFont)}
  ],
  yAxis:[
    {type:'value', position:'left', min:merc(32), max:merc(36), axisTick:{show:false}, splitLine:{show:false},
     axisLine:{onZero:false, lineStyle:{color:'#999'}},
     axisLabel:Object.assign({customValues:latTickValues, margin:10, padding:[5,0,0,0], formatter:latLabel}, tickFont)},
    {type:'value', position:'right', min:merc(32), max:merc(36), axisTick:{show:false}, splitLine:{show:false},
     axisLine:{onZero:false, lineStyle:{color:'#333'}},
     axisLabel:Object.assign({customValues:latTickValues, margin:8, padding:[5,0,0,0], formatter:latLabel}, tickFont)}
  ],
  series:[
    // 地の色 (19.5-20)
    customSeries(function(p, api){
      return {type:'polygon', shape:{points:project(api, [[137.5,36],[141.5,36],[141.5,32],[137.5,32]])}, style:{fill:C.yellow}};
    }, [0], 1),
    customSeries(renderLayer, layers, 2),
    customSeries(renderGrid, graticule, 3),
    customSeries(renderKuroshio, [kuroshioNorth, kuroshioSouth], 4),
    customSeries(renderLand, [coast], 5),
    customSeries(renderFlow, flowArrows, 6),
    customSeries(renderIsland, islands, 7),
    customSeries(renderLabel, contourLabels, 8),
    customSeries(renderPlace, placeNames, 9)
  ],
  graphic:{elements:texts}
};
myChart.setOption(option);
</script>
</body>
</html>
